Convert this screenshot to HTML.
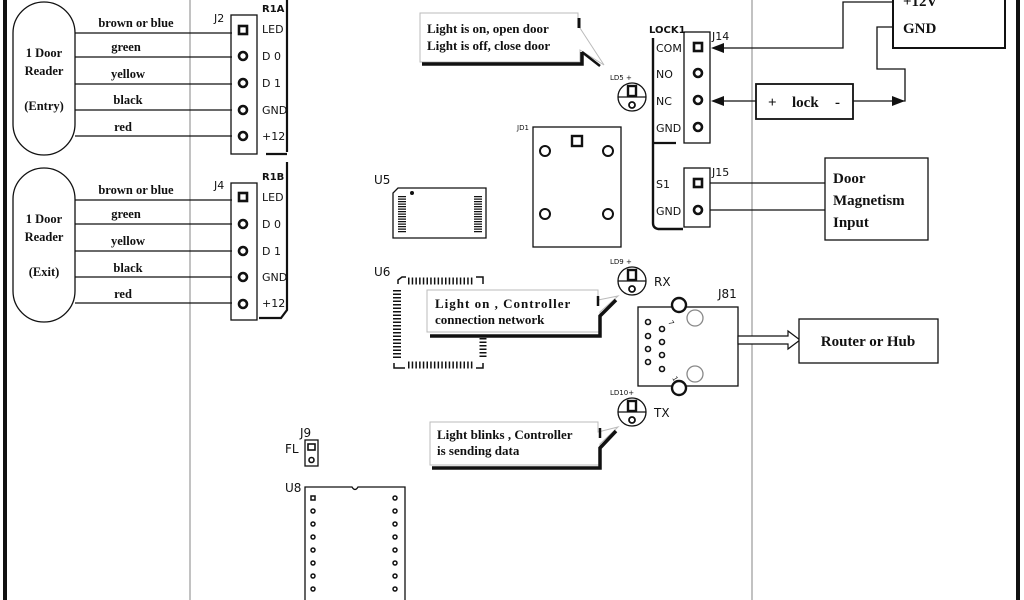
<!DOCTYPE html>
<html><head><meta charset="utf-8"><style>
html,body{margin:0;padding:0;background:#fff}
svg{display:block}
.s{font-family:"Liberation Serif",serif;font-weight:bold;fill:#111}
.a{font-family:"DejaVu Sans","Liberation Sans",sans-serif;fill:#111}
</style></head><body>
<svg width="1024" height="600" viewBox="0 0 1024 600" xmlns="http://www.w3.org/2000/svg">
<rect width="1024" height="600" fill="#fff"/>
<line x1="5" y1="0" x2="5" y2="600" stroke="#111" stroke-width="4"/>
<line x1="1018" y1="0" x2="1018" y2="600" stroke="#111" stroke-width="4"/>
<line x1="190" y1="0" x2="190" y2="600" stroke="#999" stroke-width="1.2"/>
<line x1="752" y1="0" x2="752" y2="600" stroke="#999" stroke-width="1.2"/>

<g stroke="#111" fill="none" stroke-width="1.3">
<rect x="13" y="2" width="62" height="153" rx="31"/>
<rect x="13" y="168" width="62" height="154" rx="31"/>
<path d="M75 33H232M75 57H232M75 84H232M75 110H232M75 136H232"/>
<path d="M75 200H232M75 224H232M75 251H232M75 277H232M75 303H232"/>
<rect x="231" y="15" width="26" height="139"/>
<rect x="231" y="183" width="26" height="137"/>
<path d="M287 0V152M266 154H287" stroke-width="2.2"/>
<path d="M287 162V310L281 318H259" stroke-width="2.2"/>
</g>
<g fill="#fff" stroke="#111" stroke-width="2.6">
<rect x="239" y="26" width="8" height="8" fill="#fff"/>
<circle cx="243" cy="56" r="4"/><circle cx="243" cy="83" r="4"/><circle cx="243" cy="110" r="4"/><circle cx="243" cy="136" r="4"/>
<rect x="239" y="193" width="8" height="8"/>
<circle cx="243" cy="224" r="4"/><circle cx="243" cy="251" r="4"/><circle cx="243" cy="277" r="4"/><circle cx="243" cy="304" r="4"/>
</g>
<g class="s" font-size="12.5" text-anchor="middle">
<text x="136" y="27">brown or blue</text><text x="126" y="51">green</text><text x="128" y="78">yellow</text><text x="128" y="104">black</text><text x="123" y="131">red</text>
<text x="136" y="194">brown or blue</text><text x="126" y="218">green</text><text x="128" y="245">yellow</text><text x="128" y="272">black</text><text x="123" y="298">red</text>
<text x="44" y="57">1 Door</text><text x="44" y="75">Reader</text><text x="44" y="110">(Entry)</text>
<text x="44" y="223">1 Door</text><text x="44" y="241">Reader</text><text x="44" y="276">(Exit)</text>
</g>
<g class="a" font-size="11">
<text x="214" y="22">J2</text><text x="214" y="189">J4</text>
<text x="262" y="12" font-weight="bold" font-size="10">R1A</text>
<text x="262" y="180" font-weight="bold" font-size="10">R1B</text>
<text x="262" y="33">LED</text><text x="262" y="60">D 0</text><text x="262" y="87">D 1</text><text x="262" y="114">GND</text><text x="262" y="140">+12</text>
<text x="262" y="201">LED</text><text x="262" y="228">D 0</text><text x="262" y="255">D 1</text><text x="262" y="281">GND</text><text x="262" y="307">+12</text>
</g>

<g stroke="#111">
<path d="M420 13H578V25L604 65L580 50V62H420Z" fill="#fff" stroke="#bbb" stroke-width="1"/>
<path d="M422 64H582V52" fill="none" stroke-width="3.5"/>
<path d="M582 52L600 66" stroke-width="2.5"/>
<line x1="579" y1="18" x2="579" y2="28" stroke-width="3"/>
</g>
<g class="s" font-size="13"><text x="427" y="33">Light is on, open door</text><text x="427" y="50">Light is off, close door</text></g>

<g stroke="#111" fill="#fff" stroke-width="1.3">
<circle cx="632" cy="97" r="14"/><line x1="618" y1="97" x2="646" y2="97"/><rect x="628" y="86" width="8" height="10" stroke-width="2.4"/><circle cx="632" cy="105" r="3" stroke-width="1.8"/>
<circle cx="632" cy="281" r="14"/><line x1="618" y1="281" x2="646" y2="281"/><rect x="628" y="270" width="8" height="10" stroke-width="2.4"/><circle cx="632" cy="289" r="3" stroke-width="1.8"/>
<circle cx="632" cy="412" r="14"/><line x1="618" y1="412" x2="646" y2="412"/><rect x="628" y="401" width="8" height="10" stroke-width="2.4"/><circle cx="632" cy="420" r="3" stroke-width="1.8"/>
</g>
<g class="a" font-size="7"><text x="610" y="80">LD5 +</text><text x="610" y="264">LD9 +</text><text x="610" y="395">LD10+</text><text x="517" y="130">JD1</text></g>
<g class="a" font-size="12"><text x="654" y="286">RX</text><text x="654" y="417">TX</text><text x="718" y="298">J81</text>
<text x="374" y="184">U5</text><text x="374" y="276">U6</text><text x="300" y="437">J9</text><text x="285" y="453">FL</text><text x="285" y="492">U8</text></g>

<g stroke="#111" fill="none" stroke-width="1.3">
<path d="M653 38V223Q653 228 658 229H683" stroke-width="2.4"/>
<line x1="653" y1="143" x2="676" y2="143" stroke-width="2.2"/>
<rect x="684" y="32" width="26" height="111"/>
<rect x="684" y="168" width="26" height="59"/>
</g>
<g fill="#fff" stroke="#111" stroke-width="2.6">
<rect x="694" y="43" width="8" height="8"/><circle cx="698" cy="73" r="4"/><circle cx="698" cy="100" r="4"/><circle cx="698" cy="127" r="4"/>
<rect x="694" y="179" width="8" height="8"/><circle cx="698" cy="210" r="4"/>
</g>
<g class="a" font-size="11"><text x="649" y="33" font-weight="bold" font-size="10">LOCK1</text>
<text x="656" y="52">COM</text><text x="656" y="78">NO</text><text x="656" y="105">NC</text><text x="656" y="132">GND</text>
<text x="656" y="188">S1</text><text x="656" y="215">GND</text>
<text x="712" y="40">J14</text><text x="712" y="176">J15</text></g>

<g stroke="#111" fill="#fff" stroke-width="1.3">
<rect x="533" y="127" width="88" height="120"/>
<rect x="572" y="136" width="10" height="10" stroke-width="2.4"/>
<circle cx="545" cy="151" r="5" stroke-width="2"/><circle cx="608" cy="151" r="5" stroke-width="2"/>
<circle cx="545" cy="214" r="5" stroke-width="2"/><circle cx="608" cy="214" r="5" stroke-width="2"/>
</g>

<g stroke="#111" fill="none">
<path d="M398 188H486V238H393V193Z" stroke-width="1.3"/>
<line x1="402" y1="196" x2="402" y2="233" stroke-width="8" stroke-dasharray="1.2 1.3"/>
<line x1="478" y1="196" x2="478" y2="233" stroke-width="8" stroke-dasharray="1.2 1.3"/>
<circle cx="412" cy="193" r="1.5" fill="#111"/>
</g>
<g stroke="#111" fill="none">
<path d="M398 284V280L402 277H406M476 277H483V284M394 363V368H405M476 368H483V363" stroke-width="1.5"/>
<line x1="408" y1="281" x2="474" y2="281" stroke-width="7" stroke-dasharray="1.5 2.2"/>
<line x1="408" y1="365" x2="474" y2="365" stroke-width="7" stroke-dasharray="1.5 2.2"/>
<line x1="397" y1="290" x2="397" y2="360" stroke-width="8" stroke-dasharray="1.5 2"/>
<line x1="483" y1="338" x2="483" y2="358" stroke-width="7" stroke-dasharray="1.5 2"/>
</g>

<g stroke="#111">
<path d="M427 290H598V300L618 296L600 312V332H427Z" fill="#fff" stroke="#bbb" stroke-width="1"/>
<path d="M430 336H600V316L616 300" fill="none" stroke-width="3.5"/>
<line x1="598" y1="296" x2="598" y2="306" stroke-width="2.5"/>
</g>
<g class="s" font-size="13"><text x="435" y="308" letter-spacing="1">Light on , Controller</text><text x="435" y="324">connection network</text></g>
<g stroke="#111">
<path d="M430 422H598V432L618 427L600 444V465H430Z" fill="#fff" stroke="#bbb" stroke-width="1"/>
<path d="M432 468H600V448L616 431" fill="none" stroke-width="3.5"/>
<line x1="600" y1="428" x2="600" y2="438" stroke-width="2.5"/>
</g>
<g class="s" font-size="13"><text x="437" y="439">Light blinks , Controller</text><text x="437" y="455">is sending data</text></g>

<g stroke="#111" fill="#fff" stroke-width="1.3">
<rect x="638" y="307" width="100" height="79"/>
<circle cx="679" cy="305" r="7" stroke-width="2.4"/><circle cx="679" cy="388" r="7" stroke-width="2.4"/>
<circle cx="695" cy="318" r="8" stroke="#888"/><circle cx="695" cy="374" r="8" stroke="#888"/>
<g stroke-width="1.6"><circle cx="648" cy="322" r="2.5"/><circle cx="648" cy="336" r="2.5"/><circle cx="648" cy="349" r="2.5"/><circle cx="648" cy="362" r="2.5"/>
<circle cx="662" cy="329" r="2.5"/><circle cx="662" cy="342" r="2.5"/><circle cx="662" cy="355" r="2.5"/><circle cx="662" cy="369" r="2.5"/></g>
<path d="M738 336H788V331L800 340L788 349V344H738Z" stroke-width="1.2"/>
<rect x="799" y="319" width="139" height="44"/>
</g>
<text class="s" x="868" y="346" font-size="15" text-anchor="middle">Router or Hub</text>
<g class="a" font-size="7"><text x="668" y="322" transform="rotate(60 668 322)">7</text><text x="672" y="378" transform="rotate(60 672 378)">1</text></g>

<g stroke="#111" fill="none" stroke-width="1.3">
<rect x="893" y="-5" width="112" height="53" stroke-width="2"/>
<path d="M893 2H843V48H722"/>
<path d="M893 27H877V69H905V101H896"/>
<rect x="756" y="84" width="97" height="35" stroke-width="1.8"/>
<path d="M756 101H722M853 101H893"/>
<path d="M710 183H825M710 210H825"/>
<rect x="825" y="158" width="103" height="82"/>
</g>
<g fill="#111"><path d="M711 48L724 43V53Z"/><path d="M711 101L724 96V106Z"/><path d="M905 101L892 96V106Z"/></g>
<g class="s" font-size="15"><text x="903" y="6">+12V</text><text x="903" y="33">GND</text>
<text x="768" y="107" font-size="15">+</text><text x="792" y="107" font-size="15">lock</text><text x="835" y="107" font-size="15">-</text>
<text x="833" y="183">Door</text><text x="833" y="205">Magnetism</text><text x="833" y="227">Input</text></g>

<g stroke="#111" fill="#fff" stroke-width="1.3">
<rect x="305" y="440" width="13" height="26"/>
<rect x="308" y="444" width="7" height="6" stroke-width="1.6"/><circle cx="311.5" cy="460" r="2.5" stroke-width="1.6"/>
<path d="M305 600V487H352Q355 492 358 487H405V600"/>
</g>
<g stroke="#111" fill="#fff" stroke-width="1.5">
<rect x="311" y="496" width="4" height="4"/>
<circle cx="313" cy="511" r="2"/><circle cx="313" cy="524" r="2"/><circle cx="313" cy="537" r="2"/><circle cx="313" cy="550" r="2"/><circle cx="313" cy="563" r="2"/><circle cx="313" cy="576" r="2"/><circle cx="313" cy="589" r="2"/>
<circle cx="395" cy="498" r="2"/><circle cx="395" cy="511" r="2"/><circle cx="395" cy="524" r="2"/><circle cx="395" cy="537" r="2"/><circle cx="395" cy="550" r="2"/><circle cx="395" cy="563" r="2"/><circle cx="395" cy="576" r="2"/><circle cx="395" cy="589" r="2"/>
</g>
</svg>
</body></html>
